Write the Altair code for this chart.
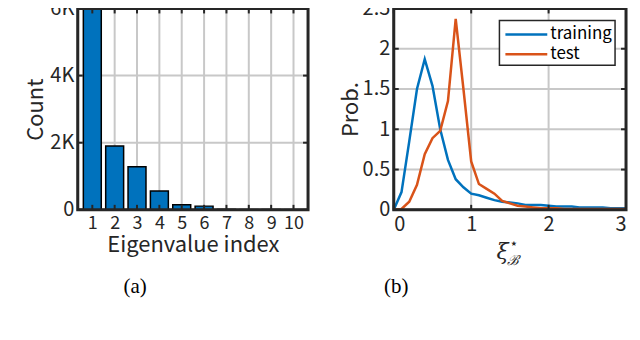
import altair as alt
import pandas as pd

# ---- data (a) ----
eig_index = [1, 2, 3, 4, 5, 6, 7, 8, 9, 10]
eig_count = [6000, 1900, 1280, 560, 150, 110, 12, 6, 8, 4]
count_ticks = [0, 2000, 4000, 6000]

# ---- data (b) ----
xi_vals = [0.0, 0.1, 0.2, 0.3, 0.4, 0.5, 0.6, 0.7, 0.8, 0.9, 1.0,
           1.1, 1.2, 1.3, 1.4, 1.5, 1.6, 1.7, 1.8, 1.9, 2.0,
           2.1, 2.2, 2.3, 2.4, 2.5, 2.6, 2.7, 2.8, 2.9, 3.0]
training = [0.0, 0.22, 0.85, 1.5, 1.87, 1.54, 1.0, 0.62, 0.38, 0.28, 0.2,
            0.18, 0.15, 0.12, 0.1, 0.09, 0.08, 0.06, 0.06, 0.06, 0.05,
            0.04, 0.04, 0.04, 0.03, 0.03, 0.03, 0.03, 0.02, 0.02, 0.02]
test = [0.0, 0.01, 0.1, 0.31, 0.69, 0.89, 0.98, 1.35, 2.37, 1.5, 0.6,
        0.32, 0.26, 0.2, 0.11, 0.08, 0.05, 0.04, 0.03, 0.02, 0.02,
        0.02, 0.01, 0.01, 0.01, 0.01, 0.01, 0.01, 0.01, 0.01, 0.01]
xi_ticks = [0, 1, 2, 3]
prob_ticks = [0, 0.5, 1, 1.5, 2, 2.5]
series_names = ["training", "test"]
series_colors = ["#0072BD", "#D95319"]

FONT = "Noto Sans CJK JP"
AX = "#262626"
GRID = "#c8c8c8"
W1, W2, H = 231, 233, 202
TL = 5  # inward tick length


def frame_layers(xf, yf, xvals, yvals, X, Y, W):
    gx = pd.DataFrame({xf: xvals})
    gy = pd.DataFrame({yf: yvals})
    grid_x = alt.Chart(gx).mark_rule(color=GRID, strokeWidth=2).encode(
        x=X, y=alt.value(0), y2=alt.value(H))
    grid_y = alt.Chart(gy).mark_rule(color=GRID, strokeWidth=2).encode(
        y=Y, x=alt.value(0), x2=alt.value(W))
    ticks = [
        alt.Chart(gx).mark_rule(color=AX, strokeWidth=2).encode(x=X, y=alt.value(H), y2=alt.value(H - TL)),
        alt.Chart(gx).mark_rule(color=AX, strokeWidth=2).encode(x=X, y=alt.value(0), y2=alt.value(TL)),
        alt.Chart(gy).mark_rule(color=AX, strokeWidth=2).encode(y=Y, x=alt.value(0), x2=alt.value(TL)),
        alt.Chart(gy).mark_rule(color=AX, strokeWidth=2).encode(y=Y, x=alt.value(W), x2=alt.value(W - TL)),
    ]
    box = alt.Chart(pd.DataFrame({"k": [0]})).mark_rect(
        fill="transparent", stroke=AX, strokeWidth=3).encode(
        x=alt.value(0), x2=alt.value(W), y=alt.value(0), y2=alt.value(H))
    return [grid_x, grid_y], ticks + [box]


# ---------- panel (a) ----------
bars_df = pd.DataFrame({"idx": eig_index, "count": eig_count})
X_a = alt.X("idx:Q", scale=alt.Scale(domain=[0.35, 10.65], nice=False, zero=False, padding=0),
            axis=alt.Axis(values=eig_index, title="Eigenvalue index", labelPadding=5,
                          labelFontSize=18, labelOverlap=False, titlePadding=2))
Y_a = alt.Y("count:Q", scale=alt.Scale(domain=[0, 6000], nice=False, padding=0),
            axis=alt.Axis(values=count_ticks, title="Count",
                          labelExpr="datum.value == 0 ? '0' : (datum.value / 1000) + 'K'",
                          labelFontSize=20, labelPadding=4, titlePadding=2))
bars = alt.Chart(bars_df).mark_bar(size=18, color="#0072BD", stroke="black",
                                   strokeWidth=1.5).encode(x=X_a, y=Y_a)
under_a, over_a = frame_layers("idx", "count", eig_index, count_ticks, X_a, Y_a, W1)
left = alt.layer(*under_a, bars, *over_a).properties(
    width=W1, height=H,
    title=alt.Title("(a)", orient="bottom", font="Liberation Serif", fontSize=21,
                    fontWeight="normal", color="black", dx=-58, offset=20))

# ---------- panel (b) ----------
lines_df = pd.concat([
    pd.DataFrame({"xi": xi_vals, "p": training, "set": "training"}),
    pd.DataFrame({"xi": xi_vals, "p": test, "set": "test"}),
])
X_b = alt.X("xi:Q", scale=alt.Scale(domain=[0, 3], nice=False, padding=0),
            axis=alt.Axis(values=xi_ticks, title=" ", labelPadding=5, format="~g",
                          labelFontSize=20, titlePadding=2))
Y_b = alt.Y("p:Q", scale=alt.Scale(domain=[0, 2.5], nice=False, padding=0),
            axis=alt.Axis(values=prob_ticks, title="Prob.", format="~g",
                          labelFontSize=20, labelPadding=4, titlePadding=0))
lines = alt.Chart(lines_df).mark_line(strokeWidth=2.5).encode(
    x=X_b, y=Y_b,
    color=alt.Color("set:N", scale=alt.Scale(domain=series_names, range=series_colors),
                    legend=None),
    order=alt.Order("xi:Q"),
)
under_b, over_b = frame_layers("xi", "p", xi_ticks, prob_ticks, X_b, Y_b, W2)

one = pd.DataFrame({"k": [0]})
legend_parts = [alt.Chart(one).mark_rect(fill="white", stroke=AX, strokeWidth=1.5).encode(
    x=alt.value(106), x2=alt.value(222), y=alt.value(12), y2=alt.value(57))]
for i, (name, col) in enumerate(zip(series_names, series_colors)):
    yy = 26 + 20 * i
    legend_parts.append(
        alt.Chart(one).mark_rule(color=col, strokeWidth=2.5).encode(
            x=alt.value(112), x2=alt.value(154), y=alt.value(yy)))
    legend_parts.append(
        alt.Chart(pd.DataFrame({"t": [name]})).mark_text(
            font=FONT, fontSize=17, color="black", align="left", baseline="middle"
        ).encode(text="t:N", x=alt.value(157), y=alt.value(yy)))

xi_label = alt.Chart(pd.DataFrame({"t": ["ξ"]})).mark_text(
    font="DejaVu Serif", fontStyle="italic", fontSize=22, color=AX, align="left", baseline="alphabetic"
).encode(text="t:N", x=alt.value(103), y=alt.value(251))
star_label = alt.Chart(pd.DataFrame({"t": ["⋆"]})).mark_text(
    font="DejaVu Sans", fontSize=14, color=AX, align="left", baseline="alphabetic"
).encode(text="t:N", x=alt.value(116), y=alt.value(240))
b_label = alt.Chart(pd.DataFrame({"t": ["ℬ"]})).mark_text(
    font="DejaVu Serif", fontStyle="italic", fontSize=14, color=AX, align="left", baseline="alphabetic"
).encode(text="t:N", x=alt.value(114), y=alt.value(257))

right = alt.layer(*under_b, lines, *over_b, *legend_parts, xi_label, star_label, b_label).properties(
    width=W2, height=H,
    title=alt.Title("(b)", orient="bottom", font="Liberation Serif", fontSize=21,
                    fontWeight="normal", color="black", dx=-114, offset=8))

chart = alt.hconcat(left, right, spacing=27).properties(
    padding={"left": 15, "top": -11, "right": 0, "bottom": 0},
    background="white",
).configure_view(
    stroke=AX, strokeWidth=2
).configure_axis(
    labelFont=FONT, titleFont=FONT, titleFontSize=22, labelColor=AX, titleColor=AX,
    titleFontWeight="normal", grid=False, domain=False, ticks=False
)

chart.save("out.html", embed_options={"renderer": "svg", "actions": False})
